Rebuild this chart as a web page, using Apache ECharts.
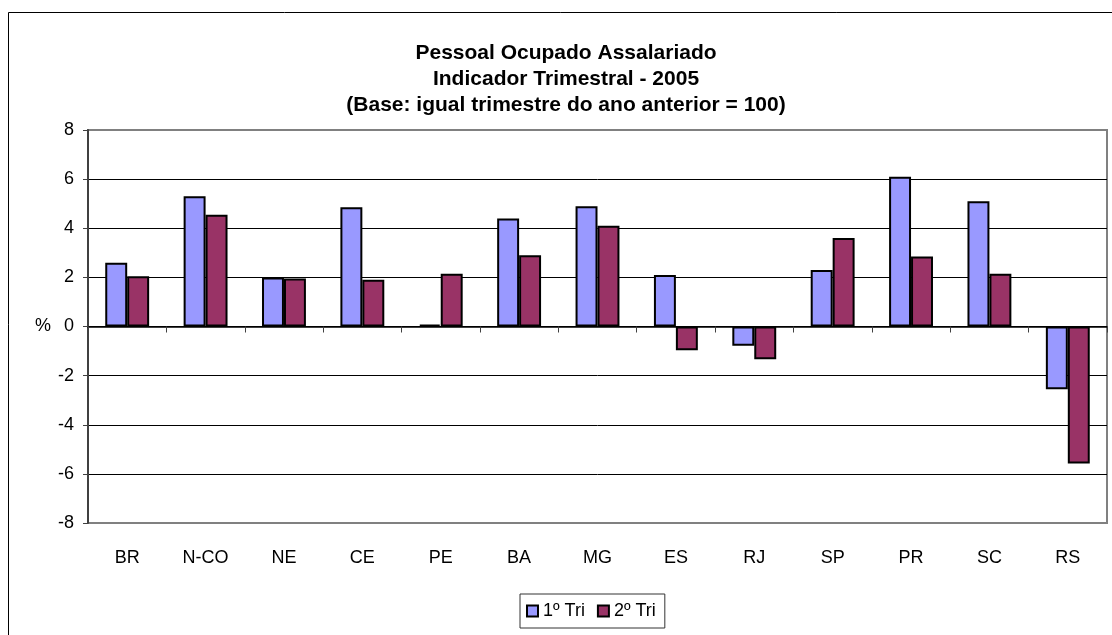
<!DOCTYPE html>
<html>
<head>
<meta charset="utf-8">
<script src="https://cdn.jsdelivr.net/npm/echarts@6/dist/echarts.min.js"></script>
<style>
  html, body { margin: 0; padding: 0; background: #fff; }
  #main { width: 1112px; height: 635px; }
</style>
</head>
<body>
<div id="main"></div>
<script>
// regions and the two quarters
var categories = ["BR", "N-CO", "NE", "CE", "PE", "BA", "MG", "ES", "RJ", "SP", "PR", "SC", "RS"];
var tri1 = [2.6, 5.3, 2.0, 4.85, 0.08, 4.4, 4.9, 2.1, -0.78, 2.3, 6.1, 5.1, -2.55];
var tri2 = [2.05, 4.55, 1.95, 1.9, 2.15, 2.9, 4.1, -0.97, -1.33, 3.6, 2.85, 2.15, -5.58];
var seriesNames = ["1º Tri", "2º Tri"];
var titleLines = [
  "Pessoal Ocupado Assalariado",
  "Indicador Trimestral - 2005",
  "(Base: igual trimestre do ano anterior = 100)"
];

var font = "Liberation Sans, Arial, sans-serif";

var myChart = echarts.init(document.getElementById("main"), null, { renderer: "canvas" });

var option = {
  animation: false,
  backgroundColor: "#fff",
  textStyle: { fontFamily: font },

  title: {
    text: titleLines.join("\n"),
    left: 566,
    textAlign: "center",
    top: 40,
    padding: 0,
    textStyle: {
      fontFamily: font,
      fontSize: 21,
      fontWeight: "bold",
      color: "#000",
      lineHeight: 26
    }
  },

  // outer chart frame (cut off at right and bottom like the original)
  graphic: [{
    type: "rect",
    silent: true,
    z: -1,
    shape: { x: 8.5, y: 12.5, width: 1200, height: 700 },
    style: { fill: "none", stroke: "#000", lineWidth: 1 }
  }],

  legend: {
    data: seriesNames,
    left: 520,
    top: 594,
    orient: "horizontal",
    icon: "rect",
    itemWidth: 11,
    itemHeight: 11,
    itemGap: 12,
    padding: [8, 9, 8, 6],
    borderColor: "#333",
    borderWidth: 1,
    itemStyle: { borderColor: "#000", borderWidth: 2 },
    textStyle: { fontFamily: font, fontSize: 18, color: "#000" }
  },

  grid: {
    left: 88,
    right: 5,
    top: 130,
    bottom: 112,
    show: true,
    borderColor: "#808080",
    borderWidth: 2
  },

  xAxis: [
    {
      // axis line on zero with the category ticks
      type: "category",
      data: categories,
      position: "bottom",
      axisLine: { onZero: true, lineStyle: { color: "#000", width: 1.5 } },
      axisTick: { show: true, length: 6, lineStyle: { color: "#404040", width: 1 } },
      axisLabel: { show: false },
      splitLine: { show: false }
    },
    {
      // labels along the bottom of the plot
      type: "category",
      data: categories,
      position: "bottom",
      axisLine: { show: false, onZero: false },
      axisTick: { show: false },
      axisLabel: {
        show: true,
        interval: 0,
        margin: 26,
        fontFamily: font,
        fontSize: 18,
        color: "#000"
      },
      splitLine: { show: false }
    }
  ],

  yAxis: {
    type: "value",
    min: -8,
    max: 8,
    interval: 2,
    name: "%",
    nameLocation: "middle",
    nameRotate: 0,
    nameGap: 45,
    nameTextStyle: { fontFamily: font, fontSize: 18, color: "#000", align: "center", verticalAlign: "middle" },
    axisLine: { show: true, onZero: false, lineStyle: { color: "#404040", width: 2 } },
    axisTick: { show: true, length: 5, lineStyle: { color: "#404040" } },
    axisLabel: { margin: 14, fontFamily: font, fontSize: 18, color: "#000" },
    splitLine: {
      show: true,
      lineStyle: {
        width: 1,
        color: ["#808080", "#000", "#000", "#000", "#000", "#000", "#000", "#000", "#808080"]
      }
    }
  },

  series: [
    {
      name: seriesNames[0],
      type: "bar",
      xAxisIndex: 0,
      data: tri1,
      barWidth: "28%",
      barGap: "0%",
      itemStyle: { color: "#9999FF", borderColor: "#000", borderWidth: 2 }
    },
    {
      name: seriesNames[1],
      type: "bar",
      xAxisIndex: 0,
      data: tri2,
      barWidth: "28%",
      barGap: "0%",
      itemStyle: { color: "#993366", borderColor: "#000", borderWidth: 2 }
    }
  ]
};

myChart.setOption(option);
</script>
</body>
</html>
